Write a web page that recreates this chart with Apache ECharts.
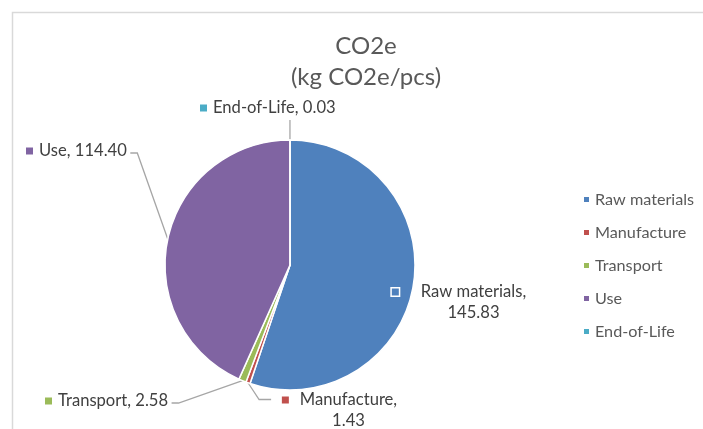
<!DOCTYPE html>
<html>
<head>
<meta charset="utf-8">
<script src="https://cdn.jsdelivr.net/npm/echarts@6/dist/echarts.min.js"></script>
<style>
html,body{margin:0;padding:0;background:#fff;}
#chart{width:703px;height:429px;}
</style>
</head>
<body>
<div id="chart"></div>
<script>
// ---- data ----
const categories = ['Raw materials', 'Manufacture', 'Transport', 'Use', 'End-of-Life'];
const values = [145.83, 1.43, 2.58, 114.40, 0.03];
const colors = ['#4F81BD', '#C0504D', '#9BBB59', '#8064A2', '#4BACC6'];
const titleText = 'CO2e\n(kg CO2e/pcs)';

// ---- label layout (positions of the data labels, not of marks) ----
const labelPlace = [
  {x: 459, y: 302.5, align: 'center', twoLine: true, gap: 22, line: false},
  {x: 339.5, y: 410.5, align: 'center', twoLine: true, gap: 11, line: true},
  {x: 45, y: 401, align: 'left', twoLine: false, gap: 6, line: true},
  {x: 26, y: 151, align: 'left', twoLine: false, gap: 6, line: true},
  {x: 200, y: 108, align: 'left', twoLine: false, gap: 6, line: true}
];

const FONT = 'Lato, "Liberation Sans", sans-serif';
const LABEL_SIZE = 16.6;
const rich = {
  t: {fontSize: LABEL_SIZE, color: '#404040', fontFamily: FONT, lineHeight: 21}
};
colors.forEach((c, i) => {
  rich['k' + i] = {width: 7, height: 7, backgroundColor: c, borderColor: '#fff', borderWidth: 1.5};
  rich['g' + i] = {width: labelPlace[i].gap, height: 7};
  rich['s' + i] = {width: 7 + labelPlace[i].gap, height: 7};
});

const data = categories.map((name, i) => ({
  name: name,
  value: values[i],
  itemStyle: {color: colors[i]},
  labelLine: {show: labelPlace[i].line}
}));

function linePoints(i, p0, L, w) {
  const px = p0[0], py = p0[1];
  if (i === 1) { // Manufacture: line to the left of first line
    const lx = L.x - w / 2, y1 = L.y - 11;
    return [[px, py], [lx - 22, y1], [lx - 10, y1]];
  }
  if (i === 2 || i === 3) { // Transport, Use: label on the left
    const rx = L.x + w, yy = L.y + 2;
    return [[px, py], [rx + 9, yy], [rx + 2, yy]];
  }
  if (i === 4) { // End-of-Life: straight up from slice
    return [[px, py], [px, L.y + 12], [px, L.y + 12]];
  }
  return null;
}

const chart = echarts.init(document.getElementById('chart'), null, {renderer: 'canvas'});
chart.setOption({
  animation: false,
  backgroundColor: '#fff',
  color: colors,
  graphic: [{
    type: 'rect', left: 10, top: 10,
    shape: {width: 800, height: 500},
    style: {fill: 'none', stroke: '#D9D9D9', lineWidth: 1.5},
    silent: true, z: -1
  }],
  title: {
    text: titleText,
    left: 361, top: 26,
    textAlign: 'center',
    textStyle: {fontSize: 24, fontWeight: 'normal', color: '#595959', fontFamily: FONT, lineHeight: 31}
  },
  legend: {
    orient: 'vertical',
    left: 577, top: 186,
    itemWidth: 7, itemHeight: 7,
    itemGap: 16,
    icon: 'rect',
    data: categories,
    textStyle: {fontSize: 16.2, color: '#595959', fontFamily: FONT, lineHeight: 17}
  },
  series: [{
    type: 'pie',
    center: [290, 265],
    radius: [0, 125],
    startAngle: 90,
    clockwise: true,
    avoidLabelOverlap: false,
    data: data,
    itemStyle: {borderColor: '#fff', borderWidth: 1.5},
    label: {
      show: true,
      position: 'outside',
      formatter: function (p) {
        const i = p.dataIndex;
        const v = Number(p.value).toFixed(2);
        if (labelPlace[i].twoLine) {
          return '{k' + i + '|}{g' + i + '|}{t|' + p.name + ',}\n{s' + i + '|}{t|' + v + '}';
        }
        return '{k' + i + '|}{g' + i + '|}{t|' + p.name + ', ' + v + '}';
      },
      rich: rich
    },
    labelLine: {show: true, lineStyle: {color: '#A6A6A6', width: 1.3}},
    labelLayout: function (params) {
      const i = params.dataIndex;
      const L = labelPlace[i];
      const out = {x: L.x, y: L.y, align: L.align, verticalAlign: 'middle'};
      const pts = params.labelLinePoints;
      if (L.line && pts && pts.length) {
        const lp = linePoints(i, pts[0], L, params.labelRect.width);
        if (lp) out.labelLinePoints = lp;
      }
      return out;
    }
  }]
});
</script>
</body>
</html>
